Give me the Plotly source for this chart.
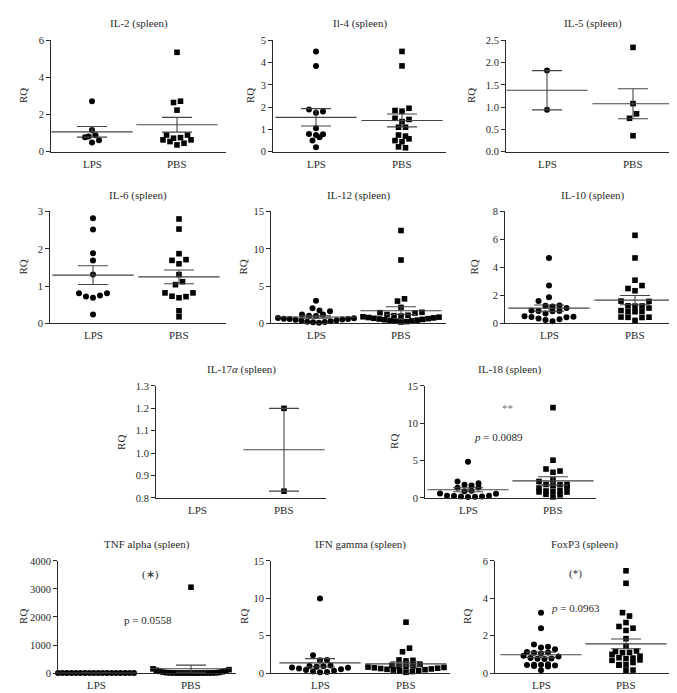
import numpy as np
import plotly.graph_objects as go

# ---------------- data (RQ values) ----------------
GROUPS = ["LPS", "PBS"]

IL2_LPS = [2.72, 1.17, 0.89, 0.82, 0.78, 0.62, 0.50]
IL2_PBS = [5.35, 2.72, 2.65, 2.24, 0.90, 0.90, 0.76, 0.73, 0.64, 0.64, 0.55, 0.46, 0.37]

IL4_LPS = [4.50, 3.85, 1.90, 1.80, 1.75, 1.05, 0.80, 0.78, 0.75, 0.65, 0.50, 0.20]
IL4_PBS = [4.50, 3.85, 1.95, 1.85, 1.82, 1.50, 1.45, 1.35, 1.10, 1.10, 0.75, 0.70,
           0.58, 0.50, 0.45, 0.22, 0.18]

IL5_LPS = [1.82, 0.94]
IL5_PBS = [2.34, 1.08, 0.85, 0.75, 0.36]

IL6_LPS = [2.82, 2.52, 1.88, 1.69, 1.31, 0.81, 0.81, 0.75, 0.72, 0.69, 0.24]
IL6_PBS = [2.80, 2.53, 1.87, 1.71, 1.69, 1.60, 1.31, 1.12, 1.04, 0.82, 0.82, 0.73,
           0.72, 0.69, 0.34, 0.18]

IL12_LPS = [3.05, 2.05, 1.75, 1.65, 1.20, 1.20, 1.05, 1.00, 0.75, 0.70, 0.65, 0.60,
            0.60, 0.55, 0.50, 0.45, 0.40, 0.30, 0.25, 0.20, 0.15, 0.10]
IL12_PBS = [12.45, 8.50, 3.30, 3.00, 2.15, 1.50, 1.45, 1.40, 1.20, 1.10, 1.05, 1.00,
            0.90, 0.85, 0.80, 0.75, 0.70, 0.65, 0.60, 0.55, 0.50, 0.45, 0.40, 0.35,
            0.30, 0.25, 0.20]

IL10_LPS = [4.68, 2.71, 1.87, 1.60, 1.28, 1.26, 1.22, 1.10, 0.92, 0.90, 0.90, 0.88,
            0.72, 0.52, 0.48, 0.47, 0.45, 0.35, 0.30, 0.25, 0.16]
IL10_PBS = [6.30, 4.68, 3.09, 2.71, 2.50, 2.34, 1.60, 1.58, 1.26, 1.25, 1.24, 1.10,
            0.92, 0.86, 0.85, 0.84, 0.46, 0.45, 0.44, 0.43, 0.22]

IL17_LPS = []
IL17_PBS = [1.20, 0.83]

IL18_LPS = [4.84, 2.20, 1.95, 1.75, 1.65, 1.40, 1.35, 0.95, 0.90, 0.60, 0.55, 0.30,
            0.30, 0.25, 0.20, 0.20, 0.15, 0.12]
IL18_PBS = [12.10, 5.05, 3.87, 3.60, 3.43, 2.40, 2.20, 1.80, 1.80, 1.76, 1.67, 1.45,
            1.32, 0.95, 0.92, 0.88, 0.80, 0.78, 0.48, 0.40, 0.13]

TNF_LPS = [2.1, 1.6, 1.4, 1.2, 1.1, 1.0, 0.9, 0.8, 0.7, 0.6, 0.5, 0.4, 0.3, 0.2,
           1.3, 0.9, 0.6, 0.4]
TNF_PBS = [3060, 150, 120, 100, 80, 60, 45, 30, 20, 15, 10, 8, 6, 5, 4, 3, 2.5, 2,
           1.5, 1.2, 1.0, 0.8, 0.5, 0.3]

IFN_LPS = [9.96, 2.37, 1.75, 1.72, 1.00, 0.95, 0.90, 0.85, 0.75, 0.70, 0.60, 0.50,
           0.40, 0.30, 0.20, 0.15, 0.10]
IFN_PBS = [6.80, 3.33, 2.85, 1.75, 1.70, 1.62, 1.18, 1.05, 0.95, 0.90, 0.85, 0.80,
           0.75, 0.70, 0.65, 0.60, 0.55, 0.50, 0.45, 0.40, 0.35, 0.30, 0.20, 0.10]

FOXP3_LPS = [3.23, 2.39, 1.53, 1.40, 1.36, 1.27, 1.12, 1.10, 1.08, 1.05, 0.92, 0.88,
             0.80, 0.78, 0.76, 0.75, 0.47, 0.45, 0.44, 0.43, 0.40, 0.38, 0.35, 0.15]
FOXP3_PBS = [5.47, 4.80, 3.23, 3.05, 2.70, 2.49, 2.40, 2.28, 1.84, 1.44, 1.18, 1.15,
             1.10, 1.09, 1.00, 0.90, 0.82, 0.80, 0.77, 0.70, 0.68, 0.56, 0.45, 0.44,
             0.42, 0.16, 0.15]

TITLES = ["IL-2 (spleen)", "Il-4 (spleen)", "IL-5 (spleen)",
          "IL-6 (spleen)", "IL-12 (spleen)", "IL-10 (spleen)",
          "IL-17<i>α</i> (spleen)", "IL-18 (spleen)",
          "TNF alpha (spleen)", "IFN gamma (spleen)", "FoxP3 (spleen)"]
SERIES = [(IL2_LPS, IL2_PBS), (IL4_LPS, IL4_PBS), (IL5_LPS, IL5_PBS),
          (IL6_LPS, IL6_PBS), (IL12_LPS, IL12_PBS), (IL10_LPS, IL10_PBS),
          (IL17_LPS, IL17_PBS), (IL18_LPS, IL18_PBS),
          (TNF_LPS, TNF_PBS), (IFN_LPS, IFN_PBS), (FOXP3_LPS, FOXP3_PBS)]
Y_MIN = [0, 0, 0, 0, 0, 0, 0.8, 0, 0, 0, 0]
Y_MAX = [6, 5, 2.5, 3, 15, 8, 1.3, 15, 4000, 15, 6]
Y_STEP = [2, 1, 0.5, 1, 5, 2, 0.1, 5, 1000, 5, 2]
Y_FMT = ["", "", ".1f", "", "", "", ".1f", "", "", "", ""]

# annotations: (panel, x in category units, y value, text)
NOTES = [(7, 0.47, 12.1, "**"), (7, 0.36, 8.1, "<i>p</i> = 0.0089"),
         (8, 0.57, 3530, "(∗)"), (8, 0.55, 1900, "p = 0.0558"),
         (10, 0.41, 5.3, "(*)"), (10, 0.41, 3.46, "<i>p</i> = 0.0963")]

# ---------------- layout geometry (pixels) ----------------
W, H = 677, 693
ROWS = [(27.7, 141.0), (201.7, 315.5), (379.0, 492.7), (556.7, 670.7)]
GEOM = [  # row, axis x0, axis x1, LPS centre, PBS centre, RQ offset
    (0, 43, 218, 84, 169, 28), (0, 265, 438, 308, 394, 23), (0, 498, 672, 539, 625, 35),
    (1, 42, 218, 85, 171, 27), (1, 263, 438, 308, 393, 28), (1, 497, 672, 541, 627, 31),
    (2, 148, 318, 189, 276, 35), (2, 417, 588, 460, 545, 31),
    (3, 50, 228, 88, 183, 35), (3, 263, 442, 312, 398, 27), (3, 487, 665, 533, 618, 28),
]
TITLE_Y = [11, 185, 362, 540]

FONT = "Liberation Serif"
TXT = "#2a2a2a"
LINE = "#454545"
ROW_H = 5.5    # vertical bin of one swarm row, px
STEP = 7.0     # horizontal spacing inside a row, px
MAX_W = 76.0   # widest a swarm row may get, px


def swarm(vals, ppy):
    """Prism-like column scatter: bin points into rows, spread each row
    with the lowest values in the middle (V shape)."""
    v = np.asarray(vals, float)
    offs = np.zeros(len(v))
    rows, cur, start = [], [], 0.0
    for idx in np.argsort(v, kind="stable"):
        y = v[idx] * ppy
        if cur and y - start >= ROW_H:
            rows.append(cur)
            cur = []
        if not cur:
            start = y
        cur.append(idx)
    if cur:
        rows.append(cur)
    flip = 1
    for r in rows:
        n = len(r)
        s = STEP if n < 2 else min(STEP, MAX_W / (n - 1))
        pos = [(k - (n - 1) / 2) * s for k in range(n)]
        pos.sort(key=lambda p: (abs(p), -flip * p))
        for idx, p in zip(r, pos):
            offs[idx] = p
        flip = -flip
    return offs


fig = go.Figure()
layout = dict(width=W, height=H, margin=dict(l=0, r=0, t=0, b=0),
              paper_bgcolor="white", plot_bgcolor="white", showlegend=False,
              font=dict(family=FONT, size=11, color=TXT), annotations=[])

for i, (title, (lps, pbs)) in enumerate(zip(TITLES, SERIES)):
    row, x0, x1, cl, cp, rq = GEOM[i]
    yt, yb = ROWS[row]
    n = i + 1
    xa, ya = f"x{n}", f"y{n}"
    d = cp - cl
    ppy = (yb - yt) / (Y_MAX[i] - Y_MIN[i])
    for g, vals in enumerate((lps, pbs)):
        if len(vals) == 0:
            continue
        v = np.asarray(vals, float)
        xs = g + swarm(v - Y_MIN[i], ppy) / d
        fig.add_trace(go.Scatter(
            x=xs, y=v, mode="markers", xaxis=xa, yaxis=ya, cliponaxis=False,
            marker=dict(symbol="circle" if g == 0 else "square",
                        size=6 if g == 0 else 5.6, color="black", line=dict(width=0)),
            hoverinfo="y"))
        mean = v.mean()
        sem = v.std(ddof=1) / np.sqrt(len(v)) if len(v) > 1 else 0
        fig.add_trace(go.Scatter(
            x=[g], y=[mean], mode="markers", xaxis=xa, yaxis=ya, cliponaxis=False,
            marker=dict(symbol="line-ew", size=58, color=LINE,
                        line=dict(width=1.1, color=LINE)),
            error_y=dict(type="data", array=[sem], width=15, thickness=1.1, color=LINE),
            hoverinfo="y"))
    key = "" if n == 1 else str(n)
    layout["xaxis" + key] = dict(
        domain=[x0 / W, x1 / W], range=[(x0 - cl) / d, (x1 - cl) / d], anchor=ya,
        showticklabels=False, ticks="",
        showline=True, linecolor=TXT, linewidth=1, showgrid=False, zeroline=False,
        fixedrange=True)
    layout["yaxis" + key] = dict(
        domain=[1 - yb / H, 1 - yt / H], range=[Y_MIN[i], Y_MAX[i]], anchor=xa,
        tick0=Y_MIN[i], dtick=Y_STEP[i], tickformat=Y_FMT[i], ticks="outside",
        ticklen=4, tickwidth=1, tickcolor=TXT, showline=True, linecolor=TXT,
        linewidth=1, showgrid=False, zeroline=False,
        tickfont=dict(size=10.5, color=TXT, family=FONT), fixedrange=True)
    # category labels under the x axis
    for g, lab in enumerate(GROUPS):
        layout["annotations"].append(dict(
            text=lab, xref=xa, yref="paper", x=g, y=1 - (yb + 12) / H,
            showarrow=False, xanchor="center", yanchor="middle",
            font=dict(size=11, color=TXT, family=FONT)))
    layout["annotations"].append(dict(
        text=title, xref="paper", yref="paper", x=(x0 + x1) / 2 / W,
        y=1 - TITLE_Y[row] / H, showarrow=False, xanchor="center", yanchor="middle",
        font=dict(size=11, color=TXT, family=FONT)))
    layout["annotations"].append(dict(
        text="RQ", xref="paper", yref="paper", x=(x0 - rq) / W,
        y=1 - (yt + yb) / 2 / H, textangle=-90, showarrow=False,
        xanchor="center", yanchor="middle", font=dict(size=11, color=TXT, family=FONT)))

for p, xv, yv, txt in NOTES:
    n = p + 1
    layout["annotations"].append(dict(
        text=txt, xref=f"x{n}", yref=f"y{n}", x=xv, y=yv, showarrow=False,
        xanchor="center", yanchor="middle",
        font=dict(size=11, color="#707070" if txt == "**" else TXT, family=FONT)))

fig.update_layout(**layout)
fig.write_html("out.html")
